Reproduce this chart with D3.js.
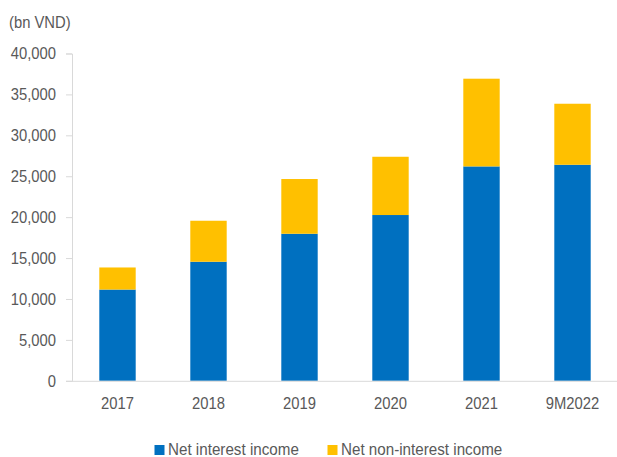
<!DOCTYPE html>
<html>
<head>
<meta charset="utf-8">
<script src="https://cdn.jsdelivr.net/npm/d3@7/dist/d3.min.js"></script>
<style>
  html, body { margin: 0; padding: 0; background: #fff; }
  svg { display: block; font-family: "Liberation Sans", Arial, sans-serif; }
  text { fill: #595959; }
</style>
</head>
<body>
<svg id="chart" width="617" height="457"></svg>
<script>
// Income breakdown, bn VND
const categories = ["2017", "2018", "2019", "2020", "2021", "9M2022"];
const netInterest = [11150, 14550, 17970, 20260, 26200, 26400];
const netNonInterest = [2700, 5010, 6690, 7120, 10720, 7460];
const yTicks = [0, 5000, 10000, 15000, 20000, 25000, 30000, 35000, 40000];
const seriesNames = ["Net interest income", "Net non-interest income"];
const seriesColors = ["#0070C0", "#FFC000"];

const svg = d3.select("#chart");
const plot = { left: 72, right: 618, top: 53.5, bottom: 380.8 };
const axisFont = 17, axisSquash = 0.87;

// Horizontally narrowed text: scale x about the origin and compensate the x position
function squash(sel, k) {
  sel.each(function () {
    const t = d3.select(this);
    const x0 = +t.attr("x") || 0;
    t.attr("x", x0 / k).attr("transform", `scale(${k},1)`);
  });
}

const x = d3.scaleBand().domain(categories).range([plot.left, plot.right]).paddingInner(0.6).paddingOuter(0.3);
const y = d3.scaleLinear().domain([0, 40000]).range([plot.bottom, plot.top]);

const rows = categories.map((c, i) => ({ cat: c, interest: netInterest[i], nonInterest: netNonInterest[i] }));
const stacked = d3.stack().keys(["interest", "nonInterest"])(rows);

// Y axis
const yAxis = svg.append("g")
  .attr("transform", `translate(${plot.left},0)`)
  .call(d3.axisLeft(y).tickValues(yTicks).tickSize(6).tickPadding(10).tickFormat(d3.format(",")));
yAxis.select(".domain").attr("stroke", "#d9d9d9");
yAxis.selectAll(".tick line").attr("stroke", "#d9d9d9");
yAxis.selectAll(".tick text")
  .attr("font-size", axisFont + "px")
  .attr("font-family", "Liberation Sans, Arial, sans-serif")
  .attr("fill", "#595959")
  .call(squash, axisSquash);

// Bars
svg.append("g").selectAll("g")
  .data(stacked)
  .join("g")
  .attr("fill", (d, i) => seriesColors[i])
  .selectAll("rect")
  .data(d => d)
  .join("rect")
  .attr("x", d => x(d.data.cat))
  .attr("width", x.bandwidth())
  .attr("y", d => y(d[1]))
  .attr("height", d => y(d[0]) - y(d[1]));

// X axis baseline and labels
const xAxis = svg.append("g")
  .attr("transform", `translate(0,${plot.bottom})`)
  .call(d3.axisBottom(x).tickSize(0).tickPadding(16));
xAxis.select(".domain").attr("stroke", "#d9d9d9").attr("d", `M${plot.left},0.5H${plot.right}`);
xAxis.selectAll(".tick text")
  .attr("font-size", axisFont + "px")
  .attr("font-family", "Liberation Sans, Arial, sans-serif")
  .attr("fill", "#595959")
  .call(squash, axisSquash);

// Unit label
svg.append("text")
  .attr("x", 9).attr("y", 28)
  .attr("font-size", axisFont + "px")
  .text("(bn VND)")
  .call(squash, axisSquash);

// Legend
const legendItems = [{ x: 154.5, tx: 168 }, { x: 327.5, tx: 341 }];
const legend = svg.append("g");
seriesNames.forEach((name, i) => {
  legend.append("rect")
    .attr("x", legendItems[i].x).attr("y", 445)
    .attr("width", 10).attr("height", 10)
    .attr("fill", seriesColors[i]);
  legend.append("text")
    .attr("x", legendItems[i].tx).attr("y", 455)
    .attr("font-size", "16px")
    .text(name)
    .call(squash, 0.95);
});
</script>
</body>
</html>
